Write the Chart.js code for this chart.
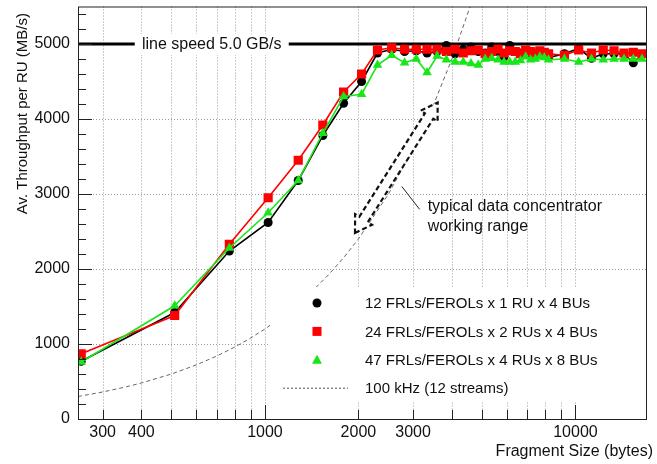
<!DOCTYPE html>
<html>
<head>
<meta charset="utf-8">
<script src="https://cdn.jsdelivr.net/npm/chart.js@4.4.1/dist/chart.umd.min.js"></script>
<style>
  html, body { margin: 0; padding: 0; background: #fff; }
</style>
</head>
<body>
<canvas id="throughput-chart" width="657" height="464"></canvas>
<script>
// fragment sizes (bytes)
const fragSizes = [256, 512, 768, 1024, 1280, 1536, 1792, 2048, 2304, 2560, 2816, 3072, 3328, 3584,
  3840, 4096, 4352, 4608, 4864, 5120, 5376, 5632, 5888, 6144, 6400, 6656, 6912, 7168, 7424, 7680, 7936, 8192,
  9216, 10240, 11264, 12288, 13312, 14336, 15360, 16384];

// throughput per RU (MB/s)
const thr12 = [770, 1420, 2240, 2620, 3180, 3780, 4210, 4500, 4880, 4930, 4900, 4910, 4880, 4900,
  4980, 4870, 4930, 4960, 4900, 4880, 4960, 4900, 4830, 4980, 4900, 4880, 4900, 4880, 4870, 4890, 4880, 4820,
  4870, 4940, 4810, 4870, 4870, 4870, 4750, 4860];
const thr24 = [870, 1380, 2330, 2950, 3450, 3920, 4360, 4600, 4920, 4950, 4930, 4930, 4930, 4930,
  4900, 4930, 4880, 4910, 4920, 4870, 4900, 4930, 4880, 4910, 4900, 4870, 4920, 4900, 4880, 4910, 4890, 4870,
  4850, 4920, 4880, 4920, 4910, 4880, 4890, 4870];
const thr47 = [760, 1510, 2280, 2750, 3180, 3810, 4300, 4330, 4720, 4850, 4750, 4800, 4620, 4840,
  4790, 4760, 4760, 4740, 4720, 4800, 4810, 4790, 4760, 4760, 4760, 4780, 4830, 4790, 4800, 4830, 4820, 4790,
  4800, 4760, 4800, 4790, 4800, 4800, 4800, 4800];

// 100 kHz, 12 streams
const rateSizes = [250, 300, 350, 400, 500, 600, 700, 800, 900, 1000, 1200, 1400, 1600, 1800, 2000, 2500, 3000, 3500, 4000, 4580];
const rateThr = [300, 360, 420, 480, 600, 720, 840, 960, 1080, 1200, 1440, 1680, 1920, 2160, 2400, 3000, 3600, 4200, 4800, 5500];

// line speed 5.0 GB/s
const lineSpeedX = [250, 17000];
const lineSpeedY = [5000, 5000];

const xGridTicks = [300, 400, 500, 600, 700, 800, 900, 1000, 2000, 3000, 4000, 5000, 6000, 7000, 8000, 9000, 10000];
const xTickLabels = [300, 400, 1000, 2000, 3000, 10000];
const yTicks = [0, 1000, 2000, 3000, 4000, 5000];

const legendLabels = [
  '12 FRLs/FEROLs x 1 RU x 4 BUs',
  '24 FRLs/FEROLs x 2 RUs x 4 BUs',
  '47 FRLs/FEROLs x 4 RUs x 8 BUs',
  '100 kHz (12 streams)'
];

const pts = (xs, ys) => xs.map((x, i) => ({ x: x, y: ys[i] }));
const FONT = '"Liberation Sans", Arial, Helvetica, sans-serif';
const GREEN = '#19e619';

const decorations = {
  id: 'decorations',
  beforeDatasetsDraw(chart) {
    // dotted grid
    const { ctx, chartArea: a, scales: { x, y } } = chart;
    ctx.save();
    ctx.strokeStyle = '#9a9a9a';
    ctx.lineWidth = 1;
    ctx.setLineDash([1, 2]);
    ctx.beginPath();
    xGridTicks.forEach(v => {
      const px = Math.round(x.getPixelForValue(v)) + 0.5;
      ctx.moveTo(px, a.top);
      ctx.lineTo(px, a.bottom);
    });
    yTicks.forEach(v => {
      if (v === 0) return;
      const py = Math.round(y.getPixelForValue(v)) + 0.5;
      ctx.moveTo(a.left, py);
      ctx.lineTo(a.right, py);
    });
    ctx.stroke();
    ctx.restore();
  },
  afterDatasetsDraw(chart) {
    const { ctx, chartArea: a, scales: { x, y } } = chart;
    ctx.save();

    // line speed label
    const lx = x.getPixelForValue(674), ly = y.getPixelForValue(5000);
    ctx.fillStyle = '#fff';
    ctx.fillRect(lx - 77, ly - 10, 154, 21);
    ctx.fillStyle = '#111';
    ctx.font = '16px ' + FONT;
    ctx.textAlign = 'center';
    ctx.textBaseline = 'middle';
    ctx.fillText('line speed 5.0 GB/s', lx, ly + 1);

    // double arrow: working range
    const p0 = { x: x.getPixelForValue(1950), y: y.getPixelForValue(2480) };
    const p1 = { x: x.getPixelForValue(3600), y: y.getPixelForValue(4220) };
    const L = Math.hypot(p1.x - p0.x, p1.y - p0.y);
    const ang = Math.atan2(p1.y - p0.y, p1.x - p0.x);
    const h = 16, w = 10, s = 5;
    const shape = [[0, 0], [h, w], [h, s], [L - h, s], [L - h, w], [L, 0], [L - h, -w], [L - h, -s], [h, -s], [h, -w]];
    ctx.save();
    ctx.translate(p0.x, p0.y);
    ctx.rotate(ang);
    ctx.beginPath();
    shape.forEach(([u, v], i) => (i ? ctx.lineTo(u, v) : ctx.moveTo(u, v)));
    ctx.closePath();
    ctx.fillStyle = '#fff';
    ctx.fill();
    ctx.setLineDash([5, 3]);
    ctx.lineWidth = 2.2;
    ctx.strokeStyle = '#111';
    ctx.stroke();
    ctx.restore();

    // annotation
    ctx.setLineDash([]);
    ctx.lineWidth = 1;
    ctx.strokeStyle = '#222';
    ctx.beginPath();
    ctx.moveTo(x.getPixelForValue(2760), y.getPixelForValue(3100));
    ctx.lineTo(x.getPixelForValue(3150), y.getPixelForValue(2795));
    ctx.stroke();
    ctx.fillStyle = '#111';
    ctx.font = '16px ' + FONT;
    ctx.textAlign = 'left';
    ctx.fillText('typical data concentrator', x.getPixelForValue(3342), y.getPixelForValue(2838));
    ctx.fillText('working range', x.getPixelForValue(3342), y.getPixelForValue(2572));

    // legend
    const bl = a.right - 377, bt = a.bottom - 132, bw = 376, bh = 114;
    ctx.fillStyle = '#fff';
    ctx.fillRect(bl, bt, bw, bh);
    const mx = bl + 47, tx = bl + 95;
    ctx.font = '15px ' + FONT;
    ctx.textAlign = 'left';
    ctx.textBaseline = 'middle';
    legendLabels.forEach((t, i) => {
      const cy = bt + 16 + i * 28.4;
      if (i === 0) {
        ctx.fillStyle = '#000';
        ctx.beginPath(); ctx.arc(mx, cy, 4.5, 0, Math.PI * 2); ctx.fill();
      } else if (i === 1) {
        ctx.fillStyle = '#ff0000';
        ctx.fillRect(mx - 4.5, cy - 4.5, 9, 9);
      } else if (i === 2) {
        ctx.fillStyle = GREEN;
        ctx.beginPath(); ctx.moveTo(mx, cy - 5); ctx.lineTo(mx + 5, cy + 4); ctx.lineTo(mx - 5, cy + 4); ctx.closePath(); ctx.fill();
      } else {
        ctx.strokeStyle = '#555';
        ctx.setLineDash([2, 2]);
        ctx.beginPath(); ctx.moveTo(bl + 13, cy); ctx.lineTo(bl + 78, cy); ctx.stroke();
        ctx.setLineDash([]);
      }
      ctx.fillStyle = '#111';
      ctx.fillText(t, tx, cy + 1);
    });

    // inner ticks (ROOT style)
    ctx.strokeStyle = '#222';
    ctx.lineWidth = 1;
    ctx.beginPath();
    for (let v = 0; v <= 5400; v += 200) {
      const py = Math.round(y.getPixelForValue(v)) + 0.5;
      ctx.moveTo(a.left, py);
      ctx.lineTo(a.left + (v % 1000 === 0 ? 14 : 8), py);
    }
    xGridTicks.forEach(v => {
      const px = Math.round(x.getPixelForValue(v)) + 0.5;
      ctx.moveTo(px, a.bottom);
      ctx.lineTo(px, a.bottom - (v === 1000 || v === 10000 ? 14 : 9));
    });
    ctx.stroke();

    // frame
    ctx.strokeStyle = '#222';
    ctx.strokeRect(a.left + 0.5, a.top + 0.5, a.width - 1, a.height);

    // axis titles
    ctx.fillStyle = '#111';
    ctx.font = '16px ' + FONT;
    ctx.textAlign = 'right';
    ctx.textBaseline = 'middle';
    ctx.fillText('Fragment Size (bytes)', 653, 452);
    ctx.save();
    ctx.translate(23, 13);
    ctx.rotate(-Math.PI / 2);
    ctx.font = '15px ' + FONT;
    ctx.fillText('Av. Throughput per RU (MB/s)', 0, 0);
    ctx.restore();

    ctx.restore();
  }
};

const chart = new Chart(document.getElementById('throughput-chart'), {
  type: 'line',
  data: {
    datasets: [
      {
        label: legendLabels[2],
        data: pts(fragSizes, thr47),
        borderColor: GREEN,
        backgroundColor: GREEN,
        borderWidth: 1.6,
        pointStyle: 'triangle',
        pointRadius: 5.5,
        pointBorderWidth: 0,
        order: 0
      },
      {
        label: legendLabels[1],
        data: pts(fragSizes, thr24),
        borderColor: '#ff0000',
        backgroundColor: '#ff0000',
        borderWidth: 1.6,
        pointStyle: 'rect',
        pointRadius: 6.5,
        pointBorderWidth: 0,
        order: 1
      },
      {
        label: legendLabels[0],
        data: pts(fragSizes, thr12),
        borderColor: '#000',
        backgroundColor: '#000',
        borderWidth: 1.6,
        pointStyle: 'circle',
        pointRadius: 4.5,
        pointBorderWidth: 0,
        order: 2
      },
      {
        label: 'line speed 5.0 GB/s',
        data: pts(lineSpeedX, lineSpeedY),
        borderColor: '#000',
        borderWidth: 3,
        pointRadius: 0,
        order: 3
      },
      {
        label: legendLabels[3],
        data: pts(rateSizes, rateThr),
        borderColor: '#666',
        borderWidth: 1,
        borderDash: [4, 3],
        pointRadius: 0,
        tension: 0,
        order: 4
      }
    ]
  },
  options: {
    responsive: false,
    devicePixelRatio: 1,
    animation: false,
    layout: { padding: { left: 0, right: 10, top: 4, bottom: 0 } },
    plugins: { legend: { display: false }, tooltip: { enabled: false } },
    scales: {
      x: {
        type: 'logarithmic',
        min: 250,
        max: 17000,
        afterFit: (scale) => { scale.height = 45; scale.paddingLeft = 0; scale.paddingRight = 0; },
        afterBuildTicks: (scale) => { scale.ticks = xGridTicks.map(v => ({ value: v })); },
        ticks: {
          autoSkip: false,
          maxRotation: 0,
          padding: 4,
          color: '#111',
          font: { family: FONT, size: 16 },
          callback: (v) => (xTickLabels.includes(v) ? String(v) : '')
        },
        grid: { display: false, drawTicks: false, tickLength: 0 },
        border: { display: false }
      },
      y: {
        min: 0,
        max: 5500,
        afterFit: (scale) => { scale.width = 78; scale.paddingTop = 0; scale.paddingBottom = 0; },
        afterBuildTicks: (scale) => { scale.ticks = yTicks.map(v => ({ value: v })); },
        ticks: {
          padding: 8,
          color: '#111',
          font: { family: FONT, size: 16 },
          callback: (v) => String(v)
        },
        grid: { display: false, drawTicks: false, tickLength: 0 },
        border: { display: false }
      }
    }
  },
  plugins: [decorations]
});
</script>
</body>
</html>
